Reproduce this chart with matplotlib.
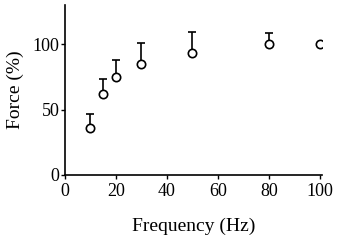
import numpy as np
from matplotlib import pyplot as plt

freq = [10, 15, 20, 30, 50, 80, 100]
force = [36, 62, 75, 85, 93, 100, 100]
err_up = [10.5, 11, 13, 16, 16, 8.5, 0]

plt.rcParams['font.family'] = ['Liberation Serif']

f = plt.figure(figsize=(3.4, 2.42), dpi=100)
ax = f.add_axes([0.191, 0.277, 0.756, 0.703])
ax.errorbar(freq, force, yerr=[np.zeros(len(err_up)), err_up], fmt='none',
            ecolor='black', elinewidth=1.2, capsize=3, capthick=1.2, zorder=2)
ax.plot(freq, force, 'o', mfc='white', mec='black', ms=6, mew=1.2, zorder=3)
ax.set_xlim([0, 100.8])
ax.set_ylim([0, 130])
ax.set_xticks([0, 20, 40, 60, 80, 100])
ax.set_yticks([0, 50, 100])
ax.set_xlabel('Frequency (Hz)', fontsize=14, labelpad=13)
ax.set_ylabel('Force (%)', fontsize=14, labelpad=6)
ax.tick_params(labelsize=13, width=1, length=3, pad=1)
ax.tick_params(axis='x', pad=2.5)
for s in ['top', 'right']:
    ax.spines[s].set_visible(False)
for s in ['left', 'bottom']:
    ax.spines[s].set_linewidth(1.2)
f.savefig('out.png', dpi=100)
